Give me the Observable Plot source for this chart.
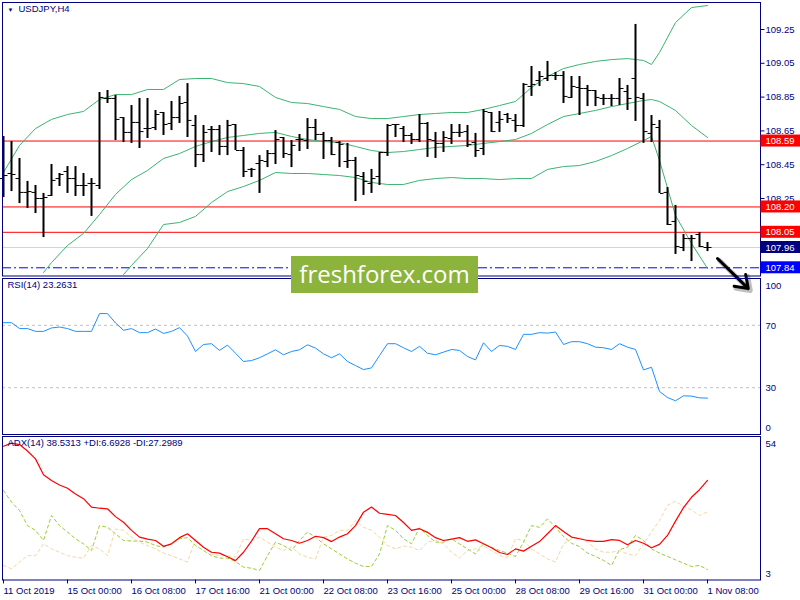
<!DOCTYPE html>
<html><head><meta charset="utf-8">
<script src="https://cdn.jsdelivr.net/npm/d3@7"></script>
<script src="https://cdn.jsdelivr.net/npm/@observablehq/plot@0.6"></script>
<style>
html,body{margin:0;padding:0;background:#fff;}
#wrap{position:relative;width:800px;height:600px;overflow:hidden;background:#fff;}
#wrap svg{position:absolute;left:0;top:0;}
#logo{position:absolute;left:291px;top:256px;width:187px;height:37px;background:#8cb43c;color:#fff;font-family:"Open Sans",sans-serif;font-size:24px;line-height:35px;text-align:center;}
</style></head><body><div id="wrap"></div>
<script>
// ---------- data ----------
const opens = [108.368,108.398,108.368,108.286,108.286,108.250,108.268,108.368,108.410,108.368,108.327,108.339,108.327,108.842,108.842,108.729,108.641,108.700,108.664,108.670,108.759,108.694,108.729,108.818,108.682,108.510,108.658,108.658,108.558,108.688,108.534,108.422,108.457,108.469,108.516,108.611,108.510,108.599,108.593,108.670,108.629,108.593,108.581,108.469,108.475,108.380,108.339,108.380,108.522,108.688,108.664,108.623,108.599,108.694,108.593,108.576,108.605,108.641,108.646,108.581,108.546,108.759,108.700,108.747,108.712,108.682,108.913,108.948,108.960,108.978,108.978,108.848,108.907,108.901,108.889,108.842,108.842,108.842,108.883,108.960,108.842,108.635,108.670,108.286,108.114,107.960,108.013,108.037,107.960];
const highs = [108.617,108.587,108.487,108.351,108.327,108.280,108.451,108.398,108.439,108.439,108.398,108.368,108.877,108.889,108.860,108.729,108.800,108.842,108.842,108.771,108.759,108.824,108.854,108.930,108.741,108.682,108.676,108.682,108.712,108.688,108.552,108.428,108.504,108.534,108.652,108.611,108.593,108.629,108.723,108.718,108.641,108.611,108.587,108.576,108.493,108.404,108.422,108.522,108.688,108.688,108.676,108.635,108.747,108.700,108.641,108.646,108.688,108.688,108.682,108.635,108.777,108.759,108.765,108.753,108.747,108.930,109.031,109.001,109.061,108.996,109.001,108.972,108.972,108.919,108.889,108.865,108.865,108.960,108.919,109.280,108.871,108.741,108.712,108.315,108.209,108.037,108.031,108.049,107.990];
const lows = [108.256,108.291,108.220,108.191,108.161,108.019,108.262,108.321,108.280,108.262,108.262,108.144,108.303,108.812,108.593,108.581,108.576,108.546,108.605,108.652,108.623,108.652,108.694,108.611,108.433,108.463,108.522,108.504,108.504,108.534,108.374,108.374,108.280,108.433,108.451,108.487,108.433,108.528,108.540,108.593,108.481,108.504,108.433,108.428,108.232,108.268,108.280,108.327,108.499,108.611,108.581,108.570,108.581,108.493,108.487,108.522,108.570,108.611,108.552,108.493,108.504,108.641,108.641,108.694,108.641,108.670,108.854,108.913,108.942,108.948,108.812,108.842,108.741,108.794,108.794,108.800,108.794,108.800,108.771,108.706,108.576,108.581,108.280,108.090,107.919,107.936,107.877,107.960,107.936];
const closes = [108.386,108.392,108.286,108.291,108.250,108.256,108.357,108.392,108.368,108.327,108.327,108.339,108.848,108.842,108.718,108.641,108.700,108.646,108.664,108.747,108.688,108.729,108.812,108.712,108.510,108.641,108.658,108.558,108.682,108.534,108.410,108.422,108.475,108.516,108.599,108.516,108.564,108.599,108.670,108.629,108.593,108.510,108.570,108.475,108.386,108.351,108.368,108.522,108.682,108.688,108.623,108.599,108.694,108.599,108.576,108.611,108.641,108.641,108.570,108.534,108.765,108.646,108.718,108.723,108.682,108.925,108.925,108.972,108.978,108.978,108.854,108.913,108.901,108.889,108.848,108.842,108.842,108.901,108.842,108.848,108.646,108.688,108.280,108.096,107.966,108.013,108.013,107.966,107.960];

const bbUpperIdx = [0,2,4,6,8,10,12,14,16,18,20,22,24,26,28,30,32,34,36,38,40,42,44,46,48,50,52,54,56,58,60,62,64,66,68,70,72,74,76,78,80,81,82,84,86,88];
const bbUpper = [108.404,108.564,108.664,108.718,108.747,108.765,108.836,108.865,108.865,108.895,108.895,108.954,108.960,108.960,108.936,108.930,108.913,108.848,108.818,108.812,108.794,108.777,108.735,108.723,108.723,108.735,108.747,108.753,108.759,108.759,108.777,108.800,108.824,108.907,108.972,109.019,109.043,109.061,109.072,109.078,109.067,109.043,109.114,109.291,109.380,109.392];
const bbMidIdx = [5,6,8,10,12,14,16,18,20,22,24,26,28,30,32,34,36,38,40,42,44,46,48,50,52,54,56,58,60,62,64,66,68,70,72,74,76,78,80,81,82,84,86,88];
const bbMid = [107.812,107.871,107.972,108.043,108.155,108.274,108.362,108.416,108.487,108.516,108.558,108.587,108.611,108.623,108.635,108.641,108.617,108.599,108.587,108.581,108.558,108.534,108.522,108.528,108.540,108.552,108.558,108.564,108.576,108.587,108.599,108.635,108.688,108.735,108.753,108.771,108.794,108.812,108.830,108.836,108.824,108.771,108.682,108.611];
const bbLowIdx = [15,16,18,20,22,24,26,28,30,32,34,36,38,40,42,44,46,48,50,52,54,56,58,60,62,64,66,68,70,72,74,76,78,80,81,82,84,86,88];
const bbLow = [107.800,107.854,107.954,108.096,108.108,108.144,108.226,108.291,108.321,108.357,108.404,108.398,108.398,108.392,108.386,108.374,108.345,108.333,108.333,108.357,108.368,108.374,108.368,108.368,108.362,108.368,108.368,108.422,108.439,108.445,108.469,108.504,108.546,108.593,108.617,108.475,108.149,107.984,107.836];

const rsi = [71.7,71.7,67.9,67.9,66.1,66.1,68.3,68.9,67.9,66.1,66.1,66.1,77.5,77.5,71.5,66.8,67.9,65.3,65.3,67.6,64.8,66.1,68.5,63.1,53.2,57.7,58.2,53.9,57.3,52.1,46.8,47.4,49.2,51.7,54.3,51.1,53.2,54.3,57.5,55.4,51.7,49.2,51.7,46.8,44.2,41.6,42.7,50.6,58.2,58.2,55.6,53.2,56.5,52.1,51.1,52.8,54.5,53.9,50.0,47.8,58.8,53.2,57.1,56.5,54.5,64.2,64.2,65.3,65.0,65.7,57.7,59.5,59.5,58.2,56.0,55.6,54.5,58.2,56.0,54.5,41.4,43.1,27.6,23.7,21.6,24.8,24.6,23.5,23.3];
const adx = [50.7,51.8,51.3,49.0,46.2,40.5,38.5,36.9,35.7,33.7,32.0,29.0,28.6,28.4,25.6,23.6,20.7,18.3,17.6,17.1,15.0,15.9,18.1,19.5,17.1,14.7,12.9,12.6,11.3,9.9,12.9,16.9,21.3,21.3,19.5,17.7,17.1,16.1,17.1,18.6,18.1,16.7,18.3,19.5,22.4,27.2,29.0,26.8,26.4,26.0,23.5,20.7,21.3,20.0,18.1,17.1,17.6,18.1,16.8,17.3,15.9,14.5,12.8,12.1,14.1,13.3,15.0,16.7,19.5,22.4,20.3,18.3,17.7,17.1,16.8,16.8,17.4,17.1,15.6,17.1,16.1,14.5,15.7,18.9,24.0,28.8,32.5,35.2,38.5];
const plusDI = [34.9,30.8,27.8,22.4,20.7,17.1,26.0,22.4,20.1,17.7,15.9,13.5,22.4,21.8,19.5,17.1,16.9,16.9,16.5,15.3,14.7,15.9,17.7,18.1,15.3,13.5,11.7,10.8,10.8,9.6,7.6,7.2,6.4,11.7,16.5,15.3,13.5,17.1,20.1,18.3,15.9,14.1,12.3,10.5,9.0,7.8,7.8,12.3,22.4,20.7,17.7,15.9,21.6,18.9,16.5,16.5,17.7,15.9,14.1,12.3,15.9,14.7,13.5,12.6,11.4,16.5,22.4,21.8,24.8,21.8,18.5,16.1,14.9,12.6,11.4,10.0,8.2,13.8,14.7,18.9,17.1,14.1,12.6,11.4,10.2,9.0,7.8,8.2,6.7];
const minusDI = [8.2,7.0,9.4,11.7,11.7,15.9,14.1,12.9,11.7,11.1,10.8,15.3,14.1,11.7,21.2,20.7,18.3,16.5,15.3,14.1,12.6,11.7,10.5,9.4,17.7,14.7,12.3,11.7,11.7,11.1,17.7,17.1,18.3,16.5,14.7,13.5,14.7,12.3,11.1,10.5,18.3,18.9,20.7,20.7,24.2,21.8,20.7,18.3,15.3,14.1,15.1,14.7,13.5,16.5,17.1,15.9,12.9,10.8,13.5,14.1,15.3,13.5,11.7,11.1,17.7,17.1,14.1,12.3,10.5,9.4,15.9,17.7,18.3,16.5,14.1,12.9,12.9,13.5,12.3,11.7,15.9,20.1,24.2,29.6,31.1,29.2,28.0,26.0,27.3];

const priceTicks = [109.25,109.05,108.85,108.65,108.45,108.25];
const redLevels = [108.59,108.20,108.05];
const bidLevel = [107.96];
const blueLevel = [107.84];
const rsiLevels = [70,30];
const adxTicks = [54,3];
const xLabelIdx = [0,8,16,24,32,40,48,56,64,72,80,88];
const xLabels = ["11 Oct 2019","15 Oct 00:00","16 Oct 08:00","17 Oct 16:00","21 Oct 00:00","22 Oct 08:00","23 Oct 16:00","25 Oct 00:00","28 Oct 08:00","29 Oct 16:00","31 Oct 00:00","1 Nov 08:00"];
const arrowPts = [{i1:89.25,p1:107.895,i2:93.1,p2:107.717}];
const titleMain = "USDJPY,H4";
const titleRsi = "RSI(14) 23.2631";
const titleAdx = "ADX(14) 38.5313 +DI:6.6928 -DI:27.2989";

// ---------- build ----------
const NAVY = "#000080";
const FONT = "'Liberation Sans', Arial, sans-serif";
const FS = 9.5;
const xDom = [-0.125, 94.625];
const X1 = xDom[1];
const bars = opens.map((o,i)=>({i, o, h:highs[i], l:lows[i], c:closes[i]}));
const band = (idx, v) => idx.map((i,k)=>({i, v:v[k]}));
const common = {width:800, height:600, marginLeft:2, marginRight:40,
  x:{domain:xDom, axis:null},
  style:{background:"transparent", fontFamily:FONT, overflow:"visible"}};
const lbl = (arr, opts) => Plot.text(arr, {x:()=>X1, y:d=>d, text:d=>String(d), dx:5, textAnchor:"start", fill:NAVY, fontSize:FS, ...opts});

const BH = 0.0355;
const boxRect = (vals, fill) => Plot.rect(vals, {x1:()=>X1+0.06, x2:()=>X1+5.2, y1:d=>d-BH, y2:d=>d+BH, fill});
const boxText = (vals) => Plot.text(vals, {x:()=>X1, y:d=>d, text:d=>d.toFixed(2), dx:5, textAnchor:"start", fill:"#fff", fontSize:FS});

const main = Plot.plot({...common, marginTop:2, marginBottom:324.5,
  y:{domain:[107.7914,109.4098], axis:null},
  marks:[
    Plot.ruleY(bidLevel, {stroke:"#d4d4d4"}),
    Plot.ruleY(redLevels, {stroke:"#ff0000"}),
    Plot.ruleY(blueLevel, {stroke:"#0000ff", strokeDasharray:"9,3,2,3"}),
    Plot.line(band(bbUpperIdx,bbUpper), {x:"i", y:"v", stroke:"#3cb371", strokeWidth:1, clip:true}),
    Plot.line(band(bbMidIdx,bbMid), {x:"i", y:"v", stroke:"#3cb371", strokeWidth:1, clip:true}),
    Plot.line(band(bbLowIdx,bbLow), {x:"i", y:"v", stroke:"#3cb371", strokeWidth:1, clip:true}),
    Plot.ruleX(bars, {x:"i", y1:"l", y2:"h", stroke:"#000", strokeWidth:2}),
    Plot.link(bars, {x1:d=>d.i-0.5, x2:d=>d.i-0.05, y1:"o", y2:"o", stroke:"#000", strokeWidth:1}),
    Plot.link(bars, {x1:d=>d.i+0.05, x2:d=>d.i+0.5, y1:"c", y2:"c", stroke:"#000", strokeWidth:1}),
    Plot.frame({stroke:NAVY}),
    Plot.link(priceTicks, {x1:()=>X1, x2:()=>X1+0.5, y1:d=>d, y2:d=>d, stroke:NAVY}),
    lbl(priceTicks, {text:d=>d.toFixed(2)}),
    boxRect(redLevels, "#ff0000"), boxText(redLevels),
    boxRect(bidLevel, "#000080"), boxText(bidLevel),
    boxRect(blueLevel, "#0000ff"), boxText(blueLevel),
    Plot.text([titleMain], {frameAnchor:"top-left", dx:16, dy:3, fill:NAVY, fontSize:FS, textAnchor:"start"}),
    Plot.text(["\u25BC"], {frameAnchor:"top-left", dx:5, dy:5, fill:NAVY, fontSize:6, textAnchor:"start"}),
    Plot.arrow(arrowPts, {x1:"i1", y1:"p1", x2:"i2", y2:"p2", stroke:"#000", strokeOpacity:0.25, strokeWidth:5, headLength:12, headAngle:70, dx:2, dy:2}),
    Plot.arrow(arrowPts, {x1:"i1", y1:"p1", x2:"i2", y2:"p2", stroke:"#000", strokeWidth:3, headLength:11, headAngle:70})
  ]});

const rsiPlot = Plot.plot({...common, marginTop:278, marginBottom:166,
  y:{domain:[0,100], axis:null},
  marks:[
    Plot.ruleY(rsiLevels, {stroke:"#c0c0c0", strokeDasharray:"3,3"}),
    Plot.line(rsi, {x:(d,i)=>i, y:d=>d, stroke:"#1e90ff", strokeWidth:1}),
    Plot.frame({stroke:NAVY}),
    lbl([100], {dy:7}), lbl([70], {dy:1}), lbl([30], {dy:0}), lbl([0], {dy:-7}),
    Plot.text([titleRsi], {frameAnchor:"top-left", dx:5, dy:3, fill:NAVY, fontSize:FS, textAnchor:"start"})
  ]});

const adxPlot = Plot.plot({...common, marginTop:436, marginBottom:20.5,
  y:{domain:[3,54.18], axis:null},
  marks:[
    Plot.line(plusDI, {x:(d,i)=>i, y:d=>d, stroke:"#9acd32", strokeWidth:1, strokeDasharray:"3,3"}),
    Plot.line(minusDI, {x:(d,i)=>i, y:d=>d, stroke:"#f5d6a4", strokeWidth:1, strokeDasharray:"3,3"}),
    Plot.line(adx, {x:(d,i)=>i, y:d=>d, stroke:"#ff0000", strokeWidth:1.2}),
    Plot.frame({stroke:NAVY}),
    lbl([adxTicks[0]], {dy:6.5}), lbl([adxTicks[1]], {dy:-6.5}),
    Plot.text([titleAdx], {frameAnchor:"top-left", dx:5, dy:3, fill:NAVY, fontSize:FS, textAnchor:"start"}),
    Plot.ruleX(xLabelIdx, {x:d=>d, y1:()=>3, y2:()=>1.6, stroke:NAVY}),
    Plot.text(xLabelIdx, {x:d=>d, y:()=>3, text:(d,k)=>xLabels[k], dy:11, dx:0, textAnchor:"start", fill:NAVY, fontSize:FS})
  ]});

const wrap = document.getElementById("wrap");
wrap.appendChild(main);
wrap.appendChild(rsiPlot);
wrap.appendChild(adxPlot);
const logo = document.createElement("div");
logo.id = "logo";
logo.textContent = "freshforex.com";
wrap.appendChild(logo);
</script></body></html>
